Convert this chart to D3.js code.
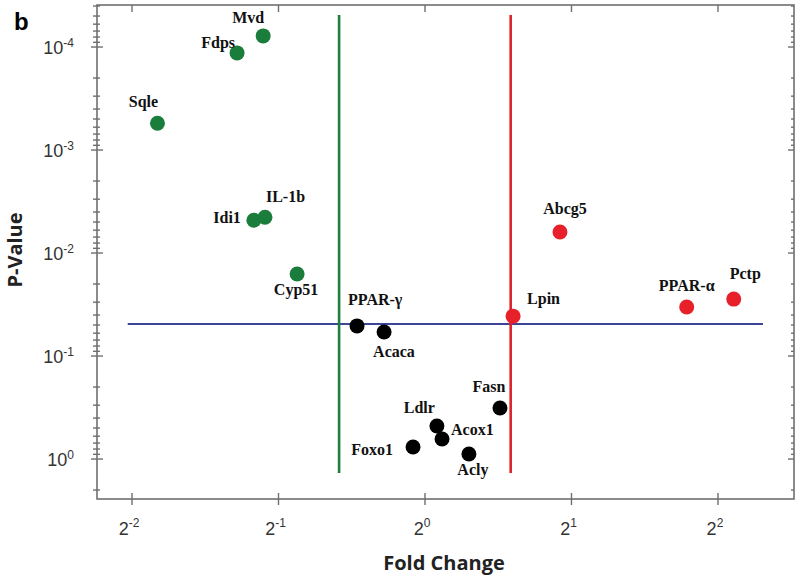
<!DOCTYPE html>
<html>
<head>
<meta charset="utf-8">
<script src="https://cdn.jsdelivr.net/npm/d3@7"></script>
<style>
  html, body { margin: 0; padding: 0; background: #fff; }
  svg { display: block; }
</style>
</head>
<body>
<svg id="chart" width="800" height="579"></svg>
<script>
// ---------- data ----------
const genes      = ["Mvd", "Fdps", "Sqle", "Idi1", "IL-1b", "Cyp51",
                    "Abcg5", "Lpin", "PPAR-α", "Pctp",
                    "PPAR-γ", "Acaca", "Foxo1", "Ldlr", "Acox1", "Acly", "Fasn"];
const foldChange = [0.465, 0.411, 0.282, 0.445, 0.469, 0.546,
                    1.894, 1.517, 3.45, 4.31,
                    0.725, 0.824, 0.945, 1.058, 1.084, 1.231, 1.426];
const pValue     = [7.8e-5, 1.14e-4, 5.5e-4, 4.8e-3, 4.5e-3, 0.016,
                    6.25e-3, 0.041, 0.0334, 0.028,
                    0.051, 0.0585, 0.764, 0.478, 0.64, 0.894, 0.32];
const group      = ["down", "down", "down", "down", "down", "down",
                    "up", "up", "up", "up",
                    "ns", "ns", "ns", "ns", "ns", "ns", "ns"];
const xTickValues = [0.25, 0.5, 1, 2, 4];
const xTickExps   = ["-2", "-1", "0", "1", "2"];
const yTickValues = [1e-4, 1e-3, 1e-2, 1e-1, 1];
const yTickExps   = ["-4", "-3", "-2", "-1", "0"];
const foldDown = 0.666, foldUp = 1.5, pCut = 0.049;
const vLineP = [4.9e-5, 1.37];
const hLineFC = [0.245, 4.95];

// ---------- layout / style (not data) ----------
const colors = { down: "#1b7d3b", up: "#e8202a", ns: "#000000" };
const labelPlacement = {
  "Mvd":    ["middle", -15, -13],
  "Fdps":   ["end", -2, -5],
  "Sqle":   ["middle", -14, -16],
  "Idi1":   ["end", -13, 3],
  "IL-1b":  ["start", 1, -15],
  "Cyp51":  ["middle", -1, 21],
  "Abcg5":  ["middle", 5, -18],
  "Lpin":   ["start", 14, -12],
  "PPAR-α": ["middle", 0, -16],
  "Pctp":   ["start", -4, -20],
  "PPAR-γ": ["start", -9, -21],
  "Acaca":  ["start", -11, 25],
  "Foxo1":  ["end", -20, 8],
  "Ldlr":   ["end", -2, -13],
  "Acox1":  ["start", 9, -4],
  "Acly":   ["middle", 4, 21],
  "Fasn":   ["middle", -11, -16]
};

const pLeft = 97, pRight = 794, pTop = 5, pBottom = 499;
const svg = d3.select("#chart");

const x = d3.scaleLog().base(2)
  .domain([Math.pow(2, -2.239), Math.pow(2, 2.519)])
  .range([pLeft, pRight]);
const y = d3.scaleLog().base(10)
  .domain([Math.pow(10, -4.408), Math.pow(10, 0.388)])
  .range([pTop, pBottom]);

const axisColor = "#6f6f6f";

// minor y ticks
const yMinor = [];
for (let e = -5; e <= 0; e++) {
  for (let m = 2; m <= 9; m++) {
    const v = m * Math.pow(10, e);
    if (v >= y.domain()[0] && v <= y.domain()[1]) yMinor.push(v);
  }
}

// frame
svg.append("rect")
  .attr("x", pLeft).attr("y", pTop)
  .attr("width", pRight - pLeft).attr("height", pBottom - pTop)
  .attr("fill", "none").attr("stroke", axisColor).attr("stroke-width", 1.6);

const ticks = svg.append("g").attr("stroke", axisColor).attr("stroke-width", 1.4);
ticks.selectAll("line.ymaj").data(yTickValues).join("line")
  .attr("class", "ymaj")
  .attr("x1", pLeft - 6).attr("x2", pLeft + 6)
  .attr("y1", d => y(d)).attr("y2", d => y(d));
ticks.selectAll("line.ymin").data(yMinor).join("line")
  .attr("class", "ymin")
  .attr("x1", pLeft - 4).attr("x2", pLeft + 3)
  .attr("y1", d => y(d)).attr("y2", d => y(d));
ticks.selectAll("line.rmaj").data(yTickValues).join("line")
  .attr("class", "rmaj")
  .attr("x1", pRight - 6).attr("x2", pRight)
  .attr("y1", d => y(d)).attr("y2", d => y(d));
ticks.selectAll("line.rmin").data(yMinor).join("line")
  .attr("class", "rmin")
  .attr("x1", pRight - 3).attr("x2", pRight)
  .attr("y1", d => y(d)).attr("y2", d => y(d));
ticks.selectAll("line.bx").data(xTickValues).join("line")
  .attr("class", "bx")
  .attr("x1", d => x(d)).attr("x2", d => x(d))
  .attr("y1", pBottom - 6).attr("y2", pBottom + 6);
ticks.selectAll("line.tx").data(xTickValues).join("line")
  .attr("class", "tx")
  .attr("x1", d => x(d)).attr("x2", d => x(d))
  .attr("y1", pTop).attr("y2", pTop + 7);

// tick labels
const tickFont = "'Liberation Sans', Arial, sans-serif";
const yl = svg.append("g").attr("font-family", tickFont).attr("fill", "#333");
yTickValues.forEach((v, i) => {
  const t = yl.append("text")
    .attr("x", 74).attr("y", y(v) + 7)
    .attr("text-anchor", "end").attr("font-size", 18);
  t.append("tspan").text("10");
  t.append("tspan").attr("font-size", 12).attr("dy", -7).text(yTickExps[i]);
});
const xl = svg.append("g").attr("font-family", tickFont).attr("fill", "#333");
xTickValues.forEach((v, i) => {
  const t = xl.append("text")
    .attr("x", x(v) - 3).attr("y", 535)
    .attr("text-anchor", "middle").attr("font-size", 18);
  t.append("tspan").text("2");
  t.append("tspan").attr("font-size", 12).attr("dy", -8).text(xTickExps[i]);
});

// axis titles
svg.append("text")
  .attr("x", 444).attr("y", 570)
  .attr("text-anchor", "middle")
  .attr("font-family", "'Open Sans', sans-serif").attr("font-weight", "bold")
  .attr("font-size", 20).attr("fill", "#222")
  .text("Fold Change");
svg.append("text")
  .attr("transform", "translate(22,250) rotate(-90)")
  .attr("text-anchor", "middle")
  .attr("font-family", "'Open Sans', sans-serif").attr("font-weight", "bold")
  .attr("font-size", 20).attr("fill", "#222")
  .text("P-Value");
svg.append("text")
  .attr("x", 14).attr("y", 30)
  .attr("font-family", "'Liberation Sans', Arial, sans-serif").attr("font-weight", "bold")
  .attr("font-size", 24).attr("fill", "#000")
  .text("b");

// threshold lines
svg.append("line")
  .attr("x1", x(hLineFC[0])).attr("x2", x(hLineFC[1]))
  .attr("y1", y(pCut)).attr("y2", y(pCut))
  .attr("stroke", "#3d4597").attr("stroke-width", 2);
svg.append("line")
  .attr("x1", x(foldDown)).attr("x2", x(foldDown))
  .attr("y1", y(vLineP[0])).attr("y2", y(vLineP[1]))
  .attr("stroke", "#1e7e3a").attr("stroke-width", 2.6);
svg.append("line")
  .attr("x1", x(foldUp)).attr("x2", x(foldUp))
  .attr("y1", y(vLineP[0])).attr("y2", y(vLineP[1]))
  .attr("stroke", "#e0222a").attr("stroke-width", 2.6);

// points
const pts = genes.map((g, i) => ({ gene: g, fc: foldChange[i], p: pValue[i], grp: group[i] }));
svg.append("g").selectAll("circle").data(pts).join("circle")
  .attr("cx", d => x(d.fc)).attr("cy", d => y(d.p))
  .attr("r", 7.5)
  .attr("fill", d => colors[d.grp]);

// labels
svg.append("g")
  .attr("font-family", "'Liberation Serif', 'Times New Roman', serif")
  .attr("font-weight", "bold").attr("font-size", 16).attr("fill", "#111")
  .selectAll("text").data(pts).join("text")
  .attr("x", d => x(d.fc) + labelPlacement[d.gene][1])
  .attr("y", d => y(d.p) + labelPlacement[d.gene][2])
  .attr("text-anchor", d => labelPlacement[d.gene][0])
  .text(d => d.gene);
</script>
</body>
</html>
